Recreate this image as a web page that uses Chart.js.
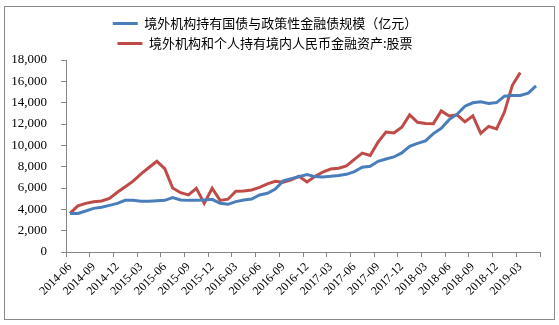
<!DOCTYPE html>
<html>
<head>
<meta charset="utf-8">
<script src="https://cdn.jsdelivr.net/npm/chart.js@4/dist/chart.umd.min.js"></script>
<style>
  body { margin: 0; background: #fff; }
  canvas { display: block; }
</style>
</head>
<body>
<canvas id="myChart" width="559" height="325"></canvas>
<script>
const months = [
  "2014-06","2014-07","2014-08","2014-09","2014-10","2014-11","2014-12","2015-01","2015-02","2015-03",
  "2015-04","2015-05","2015-06","2015-07","2015-08","2015-09","2015-10","2015-11","2015-12","2016-01",
  "2016-02","2016-03","2016-04","2016-05","2016-06","2016-07","2016-08","2016-09","2016-10","2016-11",
  "2016-12","2017-01","2017-02","2017-03","2017-04","2017-05","2017-06","2017-07","2017-08","2017-09",
  "2017-10","2017-11","2017-12","2018-01","2018-02","2018-03","2018-04","2018-05","2018-06","2018-07",
  "2018-08","2018-09","2018-10","2018-11","2018-12","2019-01","2019-02","2019-03","2019-04","2019-05"
];

// 境外机构持有国债与政策性金融债规模（亿元）
const bondHoldings = [
  3620, 3620, 3840, 4090, 4190, 4370, 4560, 4840, 4840, 4750,
  4750, 4810, 4840, 5100, 4880, 4840, 4840, 4870, 4940, 4560,
  4470, 4720, 4870, 4970, 5350, 5500, 5900, 6670, 6880, 7070,
  7260, 7070, 7040, 7100, 7180, 7280, 7540, 7950, 8040, 8500,
  8720, 8910, 9290, 9900, 10180, 10420, 11100, 11600, 12410, 12920,
  13670, 13990, 14080, 13920, 14010, 14610, 14680, 14680, 14900, 15580
];

// 境外机构和个人持有境内人民币金融资产:股票
const stockHoldings = [
  3620, 4320, 4560, 4715, 4780, 5030, 5600, 6110, 6640, 7320,
  7920, 8500, 7820, 6000, 5560, 5350, 5975, 4560, 5975, 4840,
  4950, 5690, 5720, 5815, 6050, 6380, 6630, 6540, 6760, 7100,
  6570, 7070, 7500, 7780, 7860, 8075, 8690, 9270, 9050, 10300,
  11250, 11160, 11700, 12850, 12160, 12050, 12035, 13230, 12760, 12850,
  12200, 12760, 11130, 11780, 11535, 13120, 15630, 16815
];

const seriesNames = [
  "境外机构持有国债与政策性金融债规模（亿元）",
  "境外机构和个人持有境内人民币金融资产:股票"
];

const yTicks = { min: 0, max: 18000, step: 2000 };

Chart.defaults.color = "#000";
Chart.defaults.font.family = "'Liberation Serif', serif";

const axisGray = "#868686";

// outer frame like the spreadsheet chart box, and nudge legend a bit left
const framePlugin = {
  id: "frame",
  afterLayout(chart) {
    chart.legend.left -= 5;
    chart.legend.right -= 5;
  },
  afterDraw(chart) {
    const c = chart.ctx;
    c.save();
    c.strokeStyle = "#898989";
    c.lineWidth = 1;
    c.strokeRect(4.5, 6.5, 550, 313);
    c.restore();
  }
};

const ctx = document.getElementById("myChart").getContext("2d");
const myChart = new Chart(ctx, {
  type: "line",
  data: {
    labels: months,
    datasets: [
      {
        label: seriesNames[0],
        data: bondHoldings,
        borderColor: "#4A7EBB",
        backgroundColor: "#4A7EBB",
        borderWidth: 3,
        pointRadius: 0,
        tension: 0,
        fill: false,
      },
      {
        label: seriesNames[1],
        data: stockHoldings,
        borderColor: "#BE4B48",
        backgroundColor: "#BE4B48",
        borderWidth: 3,
        pointRadius: 0,
        tension: 0,
        fill: false,
      },
    ],
  },
  options: {
    responsive: false,
    animation: false,
    devicePixelRatio: 1,
    layout: { padding: { top: 10, left: 0, right: 19, bottom: 0 } },
    plugins: {
      legend: {
        position: "top",
        labels: {
          usePointStyle: true,
          pointStyle: "line",
          pointStyleWidth: 25,
          padding: 7,
          color: "#000",
          font: { family: "'Noto Sans CJK SC', sans-serif", size: 13 },
        },
      },
      tooltip: { enabled: false },
    },
    scales: {
      x: {
        type: "category",
        offset: true,
        grid: {
          offset: true,
          drawOnChartArea: false,
          drawTicks: true,
          tickLength: 5,
          color: (c) => (c.index === undefined || c.index % 3 === 0 ? axisGray : "rgba(0,0,0,0)"),
        },
        border: { display: true, color: axisGray, width: 1 },
        ticks: {
          autoSkip: false,
          minRotation: 45,
          maxRotation: 45,
          padding: 3,
          font: { size: 12 },
          callback: function (v, i) {
            return i % 3 === 0 ? this.getLabelForValue(v) : "";
          },
        },
        afterFit: (scale) => { scale.height = 73; },
      },
      y: {
        min: yTicks.min,
        max: yTicks.max,
        grid: {
          drawOnChartArea: false,
          drawTicks: true,
          tickLength: 5,
          color: axisGray,
        },
        border: { display: true, color: axisGray, width: 1 },
        ticks: {
          stepSize: yTicks.step,
          padding: 14,
          font: { size: 13 },
        },
        afterFit: (scale) => { scale.width = 66; },
      },
    },
  },
  plugins: [framePlugin],
});
</script>
</body>
</html>
